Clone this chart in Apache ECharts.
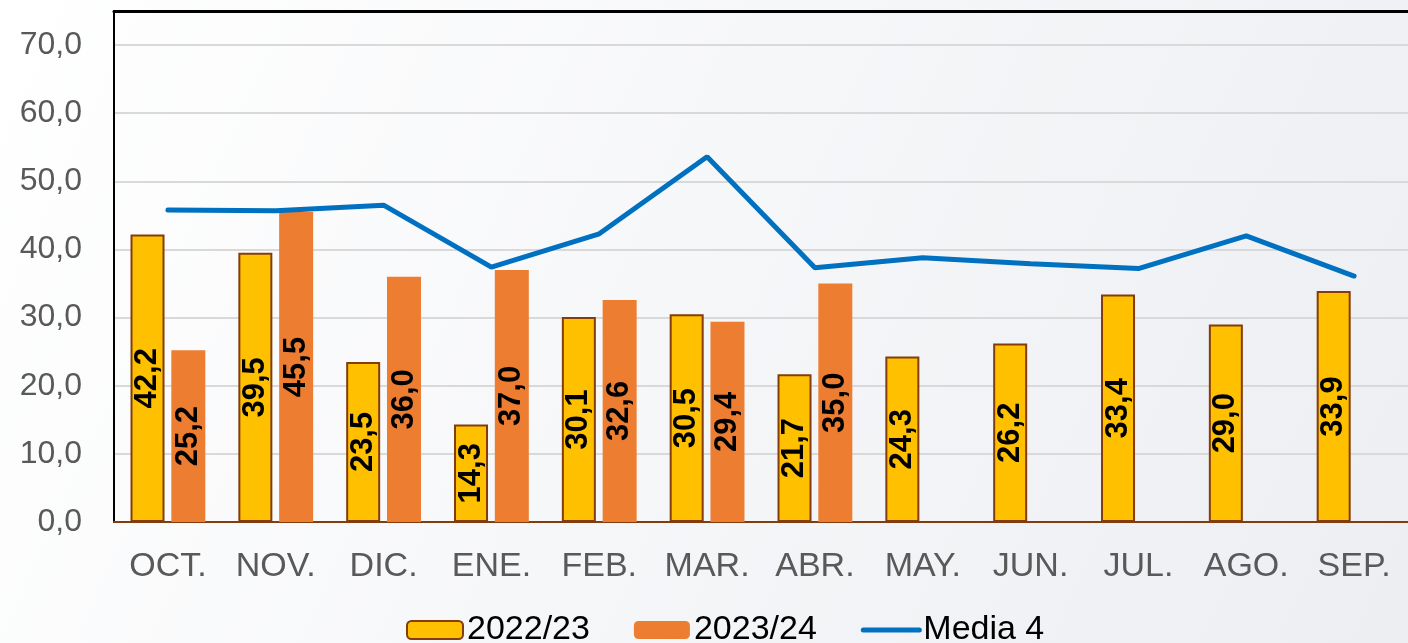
<!DOCTYPE html>
<html>
<head>
<meta charset="utf-8">
<script src="https://cdn.jsdelivr.net/npm/echarts@6/dist/echarts.min.js"></script>
<style>
  html, body { margin: 0; padding: 0; }
  #main { width: 1408px; height: 643px; }
</style>
</head>
<body>
<div id="main"></div>
<script>
var meses = ['OCT.', 'NOV.', 'DIC.', 'ENE.', 'FEB.', 'MAR.', 'ABR.', 'MAY.', 'JUN.', 'JUL.', 'AGO.', 'SEP.'];
var campana2223 = [42.2, 39.5, 23.5, 14.3, 30.1, 30.5, 21.7, 24.3, 26.2, 33.4, 29.0, 33.9];
var campana2324 = [25.2, 45.5, 36.0, 37.0, 32.6, 29.4, 35.0, null, null, null, null, null];
var media4 = [45.8, 45.7, 46.5, 37.4, 42.3, 53.6, 37.3, 38.8, 37.9, 37.2, 42.0, 36.1];

function coma(v) {
  return v.toFixed(1).replace('.', ',');
}

var myChart = echarts.init(document.getElementById('main'));

// etiquetas verticales dentro de las barras
var etiqueta = {
  show: true,
  position: 'inside',
  rotate: 90,
  color: '#000',
  fontSize: 31,
  fontWeight: 'bold',
  fontFamily: 'Liberation Sans',
  formatter: function (p) { return coma(p.value); }
};

myChart.setOption({
  backgroundColor: {
    type: 'linear', x: 0, y: 0, x2: 1, y2: 1,
    colorStops: [{ offset: 0, color: '#ffffff' }, { offset: 1, color: '#eceef2' }]
  },
  textStyle: { fontFamily: 'Liberation Sans' },
  grid: { left: 114, right: -4, top: 11, bottom: 121 },
  legend: {
    bottom: -9,
    left: 401,
    itemWidth: 56,
    itemHeight: 18,
    itemGap: 44,
    textStyle: { color: '#000', fontSize: 34, padding: [0, 0, 0, -1] },
    data: [
      '2022/23',
      '2023/24',
      {
        name: 'Media 4',
        itemStyle: { color: 'rgba(0,0,0,0)', borderWidth: 0 },
        lineStyle: { width: 5, cap: 'round' }
      }
    ]
  },
  xAxis: [
    {
      type: 'category',
      data: meses,
      axisLine: { lineStyle: { color: '#843C0C', width: 2 } },
      axisTick: { show: false },
      axisLabel: { color: '#595959', fontSize: 34, margin: 28, interval: 0 }
    },
    {
      // borde superior del área de trazado
      type: 'category',
      position: 'top',
      data: meses,
      axisLine: { lineStyle: { color: '#000', width: 3 } },
      axisTick: { show: false },
      axisLabel: { show: false }
    }
  ],
  yAxis: {
    type: 'value',
    min: 0,
    max: 75,
    interval: 10,
    axisLine: { show: true, lineStyle: { color: '#000', width: 2 } },
    axisLabel: {
      color: '#595959', fontSize: 32, margin: 32,
      formatter: function (v) { return v > 70 ? '' : coma(v); }
    },
    splitLine: { lineStyle: { color: '#d9d9d9', width: 2 } }
  },
  series: [
    {
      name: '2022/23',
      type: 'bar',
      data: campana2223,
      barWidth: 34,
      barGap: '20%',
      itemStyle: { color: '#FFC000', borderColor: '#843C0C', borderWidth: 2 },
      label: etiqueta
    },
    {
      name: '2023/24',
      type: 'bar',
      data: campana2324,
      barWidth: 34,
      itemStyle: { color: '#ED7D31' },
      label: etiqueta
    },
    {
      name: 'Media 4',
      type: 'line',
      data: media4,
      symbol: 'none',
      lineStyle: { color: '#0070C0', width: 5, cap: 'round' },
      itemStyle: { color: '#0070C0' }
    }
  ]
});
</script>
</body>
</html>
